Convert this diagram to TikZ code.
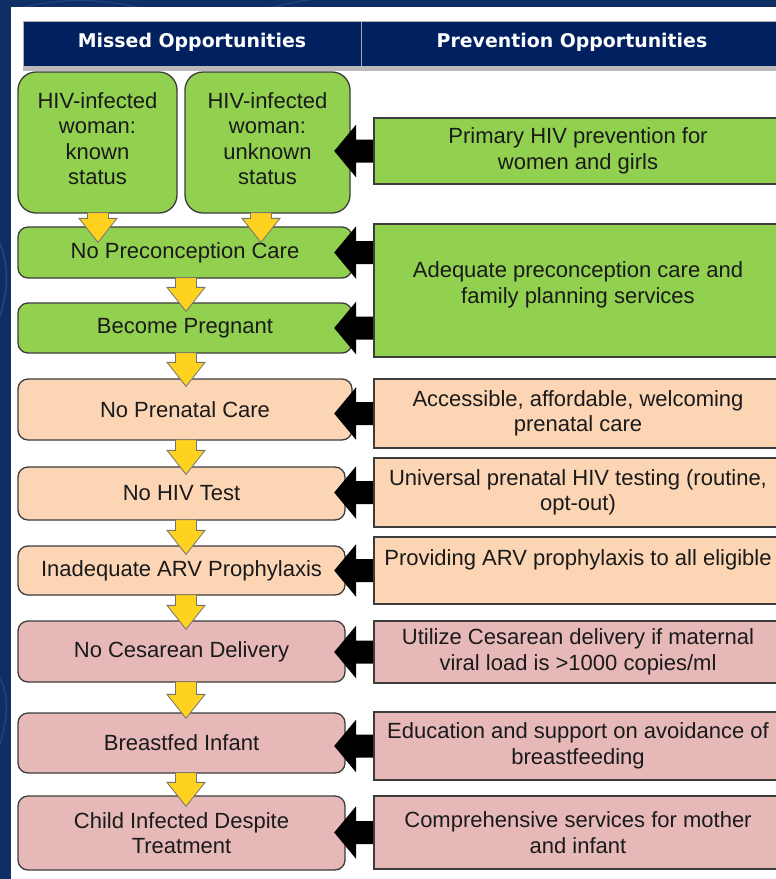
\documentclass[tikz,border=0pt]{standalone}
\usepackage{fontspec}
\setmainfont{Liberation Sans}
\newfontfamily\hdfont{DejaVu Sans}
\usetikzlibrary{calc}
\definecolor{navy}{HTML}{0E2F66}
\definecolor{navylight}{HTML}{3A5F9A}
\definecolor{hdblue}{HTML}{002060}
\definecolor{grn}{HTML}{92D050}
\definecolor{peach}{HTML}{FCD5B5}
\definecolor{pinkish}{HTML}{E6B9B8}
\definecolor{gold}{HTML}{FFD21F}
\definecolor{edge}{HTML}{3C3C3C}
\definecolor{ink}{HTML}{1A1A1A}
\newcommand\bodyfont{\fontsize{22}{25.5}\selectfont}
\newcommand\headfont{\hdfont\bfseries\fontsize{18.9}{21}\selectfont}
\tikzset{
  lbox/.style={draw=edge, line width=1.3pt, rounded corners=10pt, align=center,
    font=\bodyfont, inner sep=0pt, text=ink},
  rbox/.style={draw=edge, line width=1.6pt, align=center, font=\bodyfont,
    inner sep=0pt, text=ink, minimum width=408pt},
  yarr/.style={fill=gold, draw=black!55, line width=0.8pt, line join=miter},
  karr/.style={fill=black},
  hdtext/.style={text=white, font=\headfont, anchor=base, inner sep=0pt},
}
% yellow block arrow: #1 x-coordinate, #2 from node, #3 to node, #4 tip depth into target
\newcommand\yarrow[4]{\draw[yarr] let \p1=(#1 |- #2.south), \p2=(#1 |- #3.north) in
  (\x1-10.5pt,\y1+1pt) -- (\x1+10.5pt,\y1+1pt) -- (\x1+10.5pt,\y2-#4+24pt)
  -- (\x1+19pt,\y2-#4+24pt) -- (\x1,\y2-#4) -- (\x1-19pt,\y2-#4+24pt)
  -- (\x1-10.5pt,\y2-#4+24pt) -- cycle;}
% black block arrow: #1 source (right) node, #2 node giving the height
\newcommand\karrow[2]{\fill[karr] let \p1=(#1.west |- #2.center) in
  (\x1+1pt,\y1+11.5pt) -- (\x1-17pt,\y1+11.5pt) -- (\x1-17pt,\y1+26.5pt)
  -- (\x1-39pt,\y1) -- (\x1-17pt,\y1-26.5pt) -- (\x1-17pt,\y1-11.5pt)
  -- (\x1+1pt,\y1-11.5pt) -- cycle;}
\begin{document}
\begin{tikzpicture}[x=1pt,y=-1pt]
\useasboundingbox (0,0) rectangle (776,879);
\clip (0,0) rectangle (776,879);
% background
\fill[navy] (0,0) rectangle (776,879);
\draw[navylight, opacity=0.5, line width=1.5pt] (-30,200) .. controls (10,240) and (15,280) .. (-5,330);
\draw[navylight, opacity=0.4, line width=1.5pt] (-30,640) .. controls (10,680) and (15,700) .. (-5,760);
\draw[navylight, opacity=0.4, line width=1.2pt] (20,8) .. controls (60,-2) and (100,-2) .. (140,8);
\draw[navylight, opacity=0.4, line width=1.2pt] (270,8) .. controls (300,0) and (320,-2) .. (350,-4);
\fill[white] (11,7) rectangle (790,890);
% header
\fill[gray!55] (23,66) rectangle (790,70.5);
\fill[hdblue] (23,21) rectangle (790,66);
\draw[gray!60, line width=0.8pt] (23,21) -- (790,21);
\draw[gray!60, line width=0.8pt] (23,21) -- (23,66);
\draw[gray!70, line width=1pt] (361.5,21) -- (361.5,66);
\node[hdtext] (h1) at (192,47.5) {Missed Opportunities};
\node[hdtext] (h2) at (572,47.5) {Prevention Opportunities};
% left column
\node[lbox, fill=grn, rounded corners=18pt, minimum width=159pt, minimum height=141pt] (a1) at (97.5,142.5) {HIV-infected\\woman:\\known\\status\\[-17.5pt]~};
\node[lbox, fill=grn, rounded corners=18pt, minimum width=165pt, minimum height=141pt] (a2) at (267.5,142.5) {HIV-infected\\woman:\\unknown\\status\\[-17.5pt]~};
\node[lbox, fill=grn, minimum width=334pt, minimum height=51pt] (l1) at (185,252.5) {No Preconception Care};
\node[lbox, fill=grn, minimum width=334pt, minimum height=50pt] (l2) at (185,328) {Become Pregnant};
\node[lbox, fill=peach, minimum width=334pt, minimum height=61pt] (l3) at (185,409.5) {No Prenatal Care};
\node[lbox, fill=peach, minimum width=327pt, minimum height=53pt] (l4) at (181.5,493.5) {No HIV Test};
\node[lbox, fill=peach, minimum width=327pt, minimum height=49pt] (l5) at (181.5,570.5) {Inadequate ARV Prophylaxis};
\node[lbox, fill=pinkish, minimum width=327pt, minimum height=61pt] (l6) at (181.5,651.5) {No Cesarean Delivery};
\node[lbox, fill=pinkish, minimum width=327pt, minimum height=60pt] (l7) at (181.5,743) {Breastfed Infant};
\node[lbox, fill=pinkish, minimum width=327pt, minimum height=74pt] (l8) at (181.5,833) {Child Infected Despite\\Treatment};
% x positions of the down arrows
\coordinate (c1) at (98,0);
\coordinate (c2) at (261,0);
\coordinate (cm) at (186,0);
\yarrow{c1}{a1}{l1}{16pt}
\yarrow{c2}{a2}{l1}{16pt}
\yarrow{cm}{l1}{l2}{9pt}
\yarrow{cm}{l2}{l3}{8pt}
\yarrow{cm}{l3}{l4}{8pt}
\yarrow{cm}{l4}{l5}{9pt}
\yarrow{cm}{l5}{l6}{9pt}
\yarrow{cm}{l6}{l7}{6pt}
\yarrow{cm}{l7}{l8}{11pt}
% right column anchors (the boxes are drawn after the black arrows)
\path node[rbox, minimum height=66pt, draw=none] (r1) at (578,151) {}
      node[rbox, minimum height=133pt, draw=none] (r2) at (578,290.5) {}
      node[rbox, minimum height=69pt, draw=none] (r3) at (578,413.5) {}
      node[rbox, minimum height=69pt, draw=none] (r4) at (578,492.5) {}
      node[rbox, minimum height=67pt, draw=none] (r5) at (578,570.5) {}
      node[rbox, minimum height=62pt, draw=none] (r6) at (578,652) {}
      node[rbox, minimum height=68pt, draw=none] (r7) at (578,746) {}
      node[rbox, minimum height=73pt, draw=none] (r8) at (578,832.5) {};
\karrow{r1}{r1}
\karrow{r2}{l1}
\karrow{r2}{l2}
\karrow{r3}{r3}
\karrow{r4}{r4}
\karrow{r5}{r5}
\karrow{r6}{r6}
\karrow{r7}{r7}
\karrow{r8}{r8}
\node[rbox, fill=grn, minimum height=66pt] (p1) at (r1) {Primary HIV prevention for\\women and girls};
\node[rbox, fill=grn, minimum height=133pt] (p2) at (r2) {Adequate preconception care and\\family planning services\\[-10pt]~};
\node[rbox, fill=peach, minimum height=69pt] (p3) at (r3) {Accessible, affordable, welcoming\\prenatal care};
\node[rbox, fill=peach, minimum height=69pt] (p4) at (r4) {Universal prenatal HIV testing (routine,\\opt-out)};
\node[rbox, fill=peach, minimum height=67pt] (p5) at (r5) {Providing ARV prophylaxis to all eligible\\~};
\node[rbox, fill=pinkish, minimum height=62pt] (p6) at (r6) {Utilize Cesarean delivery if maternal\\viral load is >1000 copies/ml};
\node[rbox, fill=pinkish, minimum height=68pt] (p7) at (r7) {Education and support on avoidance of\\breastfeeding};
\node[rbox, fill=pinkish, minimum height=73pt] (p8) at (r8) {Comprehensive services for mother\\and infant};
\end{tikzpicture}
\end{document}
